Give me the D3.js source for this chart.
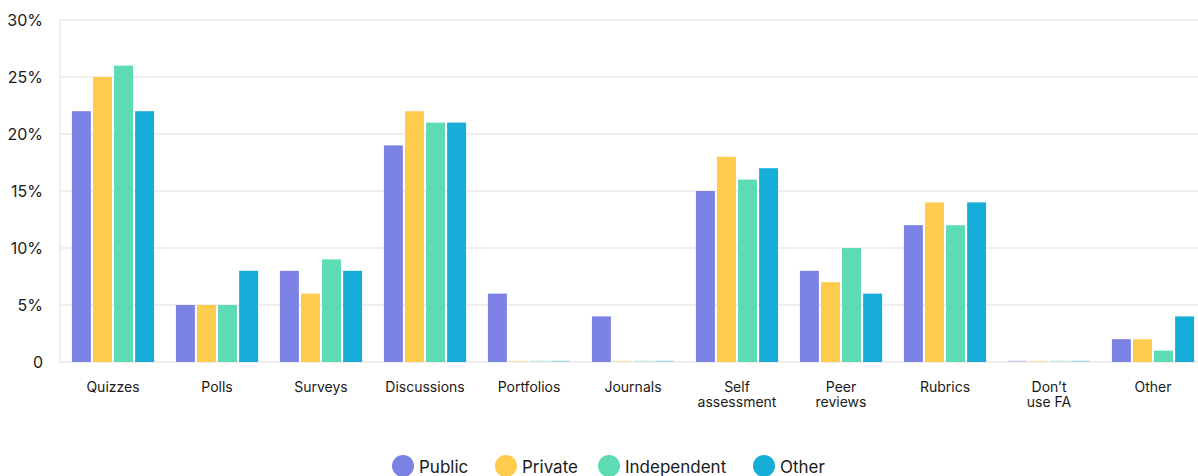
<!DOCTYPE html>
<html lang="en">
<head>
<meta charset="utf-8">
<title>Formative assessment types</title>
<script src="https://cdn.jsdelivr.net/npm/d3@7"></script>
<style>
  body { margin: 0; background: #fff; font-family: "Inter", "Noto Sans", sans-serif; }
</style>
</head>
<body>
<script>
// data
var categories = ["Quizzes", "Polls", "Surveys", "Discussions", "Portfolios", "Journals",
                  "Self\nassessment", "Peer\nreviews", "Rubrics", "Don\u2019t\nuse FA", "Other"];
var seriesNames = ["Public", "Private", "Independent", "Other"];
var publicVals      = [22, 5, 8, 19, 6, 4, 15, 8, 12, 0, 2];
var privateVals     = [25, 5, 6, 22, 0, 0, 18, 7, 14, 0, 2];
var independentVals = [26, 5, 9, 21, 0, 0, 16, 10, 12, 0, 1];
var otherVals       = [22, 8, 8, 21, 0, 0, 17, 6, 14, 0, 4];
var yTicks = [0, 5, 10, 15, 20, 25, 30];
var colors = ["#7b82e4", "#ffcb4f", "#5ddbb5", "#17add9"];

var allSeries = [publicVals, privateVals, independentVals, otherVals];

var w = 1198, h = 476;
var plotLeft = 61, plotRight = 1205, plotTop = 20, plotBottom = 362;

var svg = d3.select("body").append("svg")
  .attr("width", w)
  .attr("height", h);

var x = d3.scaleBand().domain(categories).range([plotLeft, plotRight]).paddingInner(0.21).paddingOuter(0.105);
var xs = d3.scaleBand().domain(seriesNames).range([0, x.bandwidth()]).paddingInner(0.1);
var y = d3.scaleLinear().domain([0, 30]).range([plotBottom, plotTop]);

// gridlines
svg.selectAll("line.grid")
  .data(yTicks)
  .enter()
  .append("line")
  .attr("x1", plotLeft - 2)
  .attr("x2", w)
  .attr("y1", function(d) { return y(d); })
  .attr("y2", function(d) { return y(d); })
  .attr("stroke", "#f0efed")
  .attr("stroke-width", 2);

svg.append("line")
  .attr("x1", plotLeft - 1).attr("x2", plotLeft - 1)
  .attr("y1", plotTop - 2).attr("y2", plotBottom + 2)
  .attr("stroke", "#f0efed")
  .attr("stroke-width", 2);

// y labels
svg.selectAll("text.ylab")
  .data(yTicks)
  .enter()
  .append("text")
  .attr("x", 43)
  .attr("y", function(d) { return y(d) + 6; })
  .attr("text-anchor", "end")
  .attr("font-size", "16px")
  .attr("fill", "#1a1a1a")
  .text(function(d) { return d === 0 ? "0" : d + "%"; });

// bars
var groups = svg.selectAll("g.cat")
  .data(categories)
  .enter()
  .append("g")
  .attr("transform", function(d) { return "translate(" + x(d) + ",0)"; });

groups.selectAll("rect")
  .data(function(d, i) {
    return allSeries.map(function(s, j) { return { key: seriesNames[j], v: s[i], c: colors[j] }; });
  })
  .enter()
  .append("rect")
  .attr("x", function(d) { return xs(d.key); })
  .attr("width", xs.bandwidth())
  .attr("y", function(d) { return d.v === 0 ? plotBottom - 1.5 : y(d.v); })
  .attr("height", function(d) { return d.v === 0 ? 1.5 : plotBottom - y(d.v); })
  .attr("fill", function(d) { return d.c; })
  .attr("opacity", function(d) { return d.v === 0 ? 0.3 : 1; });

// category labels
var labels = svg.selectAll("text.xlab")
  .data(categories)
  .enter()
  .append("text")
  .attr("x", function(d) { return x(d) + x.bandwidth() / 2; })
  .attr("y", 392)
  .attr("text-anchor", "middle")
  .attr("font-size", "14px")
  .attr("fill", "#1a1a1a");

labels.selectAll("tspan")
  .data(function(d) { return d.split("\n"); })
  .enter()
  .append("tspan")
  .attr("x", function() { return d3.select(this.parentNode).attr("x"); })
  .attr("dy", function(d, i) { return i === 0 ? 0 : 15; })
  .text(function(d) { return d; });

// legend
var legendX = [403, 506, 609, 764];
var legend = svg.selectAll("g.legend")
  .data(seriesNames)
  .enter()
  .append("g")
  .attr("transform", function(d, i) { return "translate(" + legendX[i] + ",466)"; });

legend.append("circle")
  .attr("r", 11)
  .attr("fill", function(d, i) { return colors[i]; });

legend.append("text")
  .attr("x", 16)
  .attr("y", 7)
  .attr("font-size", "17px")
  .attr("fill", "#1a1a1a")
  .text(function(d) { return d; });
</script>
</body>
</html>
